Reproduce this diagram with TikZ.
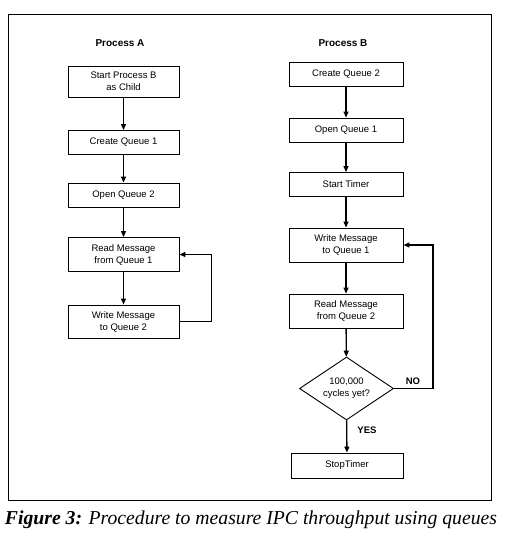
\documentclass[tikz,border=0pt]{standalone}
\usepackage{fontspec}
\usepackage{graphicx}
\setmainfont{Liberation Sans}
\newfontfamily\capfont{Liberation Serif}
\usetikzlibrary{arrows.meta,shapes.geometric}
\begin{document}
\begin{tikzpicture}[x=1pt,y=-1pt,
  box/.style={draw,line width=0.9pt,minimum width=111pt,inner sep=0pt,align=center,font=\fontsize{9.5}{12}\selectfont},
  onebox/.style={box,minimum height=24pt},
  twobox/.style={box,minimum height=33pt},
  flow/.style={line width=1.3pt,-{Triangle[length=6pt,width=5pt]}},
  lbl/.style={font=\bfseries\fontsize{9.5}{12}\selectfont},
  title/.style={font=\bfseries\fontsize{10}{12}\selectfont}]
\useasboundingbox (0,0) rectangle (520,544);
\node[draw,line width=1pt,minimum width=483pt,minimum height=486pt,inner sep=0pt] (frame) at (249.5,257) {};
% Process A
\node[title] (ta) at (120,43) {Process A};
\node[twobox,minimum height=31pt] (a1) at (123.5,81.5) {Start Process B\\as Child};
\node[onebox] (a2) at (123.5,142.5) {Create Queue 1};
\node[onebox] (a3) at (123.5,195) {Open Queue 2};
\node[twobox,minimum height=34pt] (a4) at (123.5,254.5) {Read Message\\from Queue 1};
\node[twobox] (a5) at (123.5,321.5) {Write Message\\to Queue 2};
\draw[flow] (a1) -- (a2);
\draw[flow] (a2) -- (a3);
\draw[flow] (a3) -- (a4);
\draw[flow] (a4) -- (a5);
\draw[flow] (a5.east) -- ++(32,0) |- (a4.east);
% Process B
\node[title] (tb) at (343,43) {Process B};
\node[onebox,minimum width=114pt] (b1) at (346,74.5) {Create Queue 2};
\node[onebox,minimum width=114pt] (b2) at (346,130) {Open Queue 1};
\node[onebox,minimum width=114pt] (b3) at (346,184.5) {Start Timer};
\node[twobox,minimum width=114pt,minimum height=34pt] (b4) at (346,245) {Write Message\\to Queue 1};
\node[twobox,minimum width=114pt,minimum height=34pt] (b5) at (346,311) {Read Message\\from Queue 2};
\node[diamond,draw,line width=0.9pt,aspect=1.5,inner sep=0pt,minimum width=94pt,minimum height=63pt,align=center,font=\fontsize{9.5}{12}\selectfont] (d) at (346.5,388.5) {100,000\\cycles yet?};
\node[onebox,minimum width=112pt,minimum height=25pt] (b6) at (347,465.5) {StopTimer};
\draw[flow] (b1) -- (b2);
\draw[flow] (b2) -- (b3);
\draw[flow] (b3) -- (b4);
\draw[flow] (b4) -- (b5);
\draw[flow] (b5) -- (d);
\draw[flow] (d) -- (b6);
\draw[flow] (d.east) -- ++(39,0) |- (b4.east);
\node[lbl] (no) at (413,381) {NO};
\node[lbl] (yes) at (367,430) {YES};
% caption
\node[inner sep=0pt] (cap) at (251,520) {\resizebox{492pt}{!}{\capfont\itshape\textbf{Figure 3:} Procedure to measure IPC throughput using queues}};
\end{tikzpicture}
\end{document}
